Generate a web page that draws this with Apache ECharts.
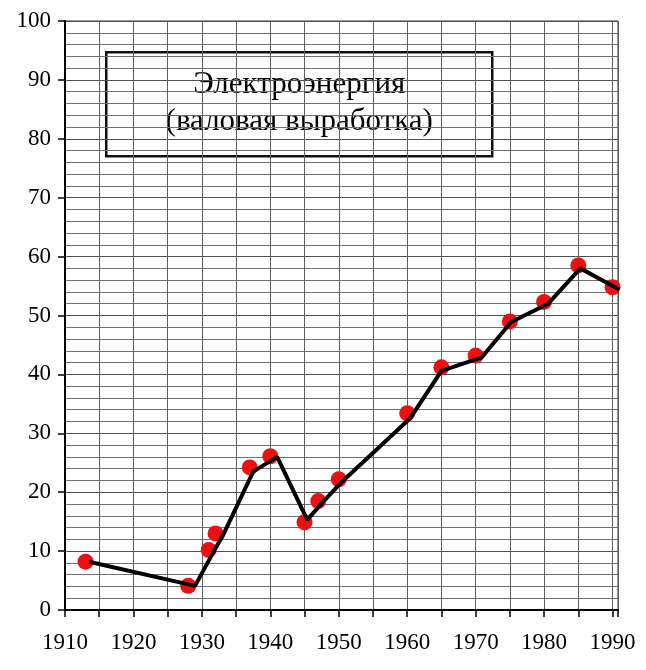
<!DOCTYPE html>
<html><head><meta charset="utf-8">
<script src="https://cdn.jsdelivr.net/npm/echarts@6/dist/echarts.min.js"></script>
<style>html,body{margin:0;padding:0;background:#fff}#c{width:646px;height:670px}</style>
</head><body><div id="c"></div>
<script>
// Data
const dotYears  = [1913, 1928, 1931, 1932, 1937, 1940, 1945, 1947, 1950, 1960, 1965, 1970, 1975, 1980, 1985, 1990];
const dotValues = [8.2, 4.1, 10.2, 13.0, 24.2, 26.1, 14.9, 18.5, 22.2, 33.4, 41.2, 43.2, 49.0, 52.3, 58.5, 54.8];
// the black line is drawn slightly offset from the dots in the original
const lineYears  = [1913.5, 1929.0, 1931.9, 1933.1, 1937.5, 1941.0, 1945.4, 1947.5, 1950.4, 1960.4, 1965.0, 1970.9, 1975.2, 1980.6, 1985.3, 1991.0];
const lineValues = [8.2, 4.1, 10.3, 12.7, 23.5, 26.0, 15.3, 18.1, 21.7, 32.5, 40.6, 42.9, 48.9, 52.0, 58.0, 54.4];
const titleLines = ['Электроэнергия', '(валовая выработка)'];

const FONT = '"Liberation Serif", "Times New Roman", serif';
const chart = echarts.init(document.getElementById('c'), null, {renderer: 'canvas'});
chart.setOption({
  animation: false,
  backgroundColor: '#fff',
  grid: {left: 65, right: 28, top: 21, bottom: 60, show: true, borderColor: '#333', borderWidth: 1},
  xAxis: {
    type: 'value', min: 1910, max: 1990.8, interval: 5,
    axisLine: {show: true, onZero: false, lineStyle: {color: '#000', width: 2}},
    axisTick: {show: true, length: 7, lineStyle: {color: '#000', width: 1.5}},
    axisLabel: {
      color: '#000', fontFamily: FONT, fontSize: 23, margin: 21,
      formatter: v => (Math.abs(v % 10) < 1e-6 ? String(v) : '')
    },
    splitLine: {show: true, lineStyle: {color: '#5e5e5e', width: 1}}
  },
  yAxis: {
    type: 'value', min: 0, max: 100, interval: 10,
    axisLine: {show: true, lineStyle: {color: '#000', width: 2}},
    axisTick: {show: true, length: 7, lineStyle: {color: '#000', width: 1.5}},
    axisLabel: {color: '#000', fontFamily: FONT, fontSize: 23, margin: 14},
    splitLine: {show: true, lineStyle: {color: '#505050', width: 1}},
    minorTick: {show: false, splitNumber: 5},
    minorSplitLine: {show: true, lineStyle: {color: '#707070', width: 1}}
  },
  series: [
    {
      type: 'scatter', z: 2,
      data: dotYears.map((y, i) => [y, dotValues[i]]),
      symbol: 'circle', symbolSize: 16,
      itemStyle: {color: '#ee1010', opacity: 1}
    },
    {
      type: 'line', z: 3,
      data: lineYears.map((y, i) => [y, lineValues[i]]),
      showSymbol: false, symbol: 'none',
      lineStyle: {color: '#000', width: 4},
      clip: false
    }
  ],
  graphic: [
    {
      type: 'group', left: 105, top: 51,
      children: [
        {type: 'rect', shape: {x: 0, y: 0, width: 386, height: 104},
         style: {fill: '#fff', stroke: '#111', lineWidth: 2.5}},
        {type: 'text', x: 193, y: 33,
         style: {text: titleLines[0], fill: '#000', font: '31px ' + FONT, textAlign: 'center', textVerticalAlign: 'middle'}},
        {type: 'text', x: 193, y: 70,
         style: {text: titleLines[1], fill: '#000', font: '31px ' + FONT, textAlign: 'center', textVerticalAlign: 'middle'}}
      ]
    }
  ]
});
</script></body></html>
